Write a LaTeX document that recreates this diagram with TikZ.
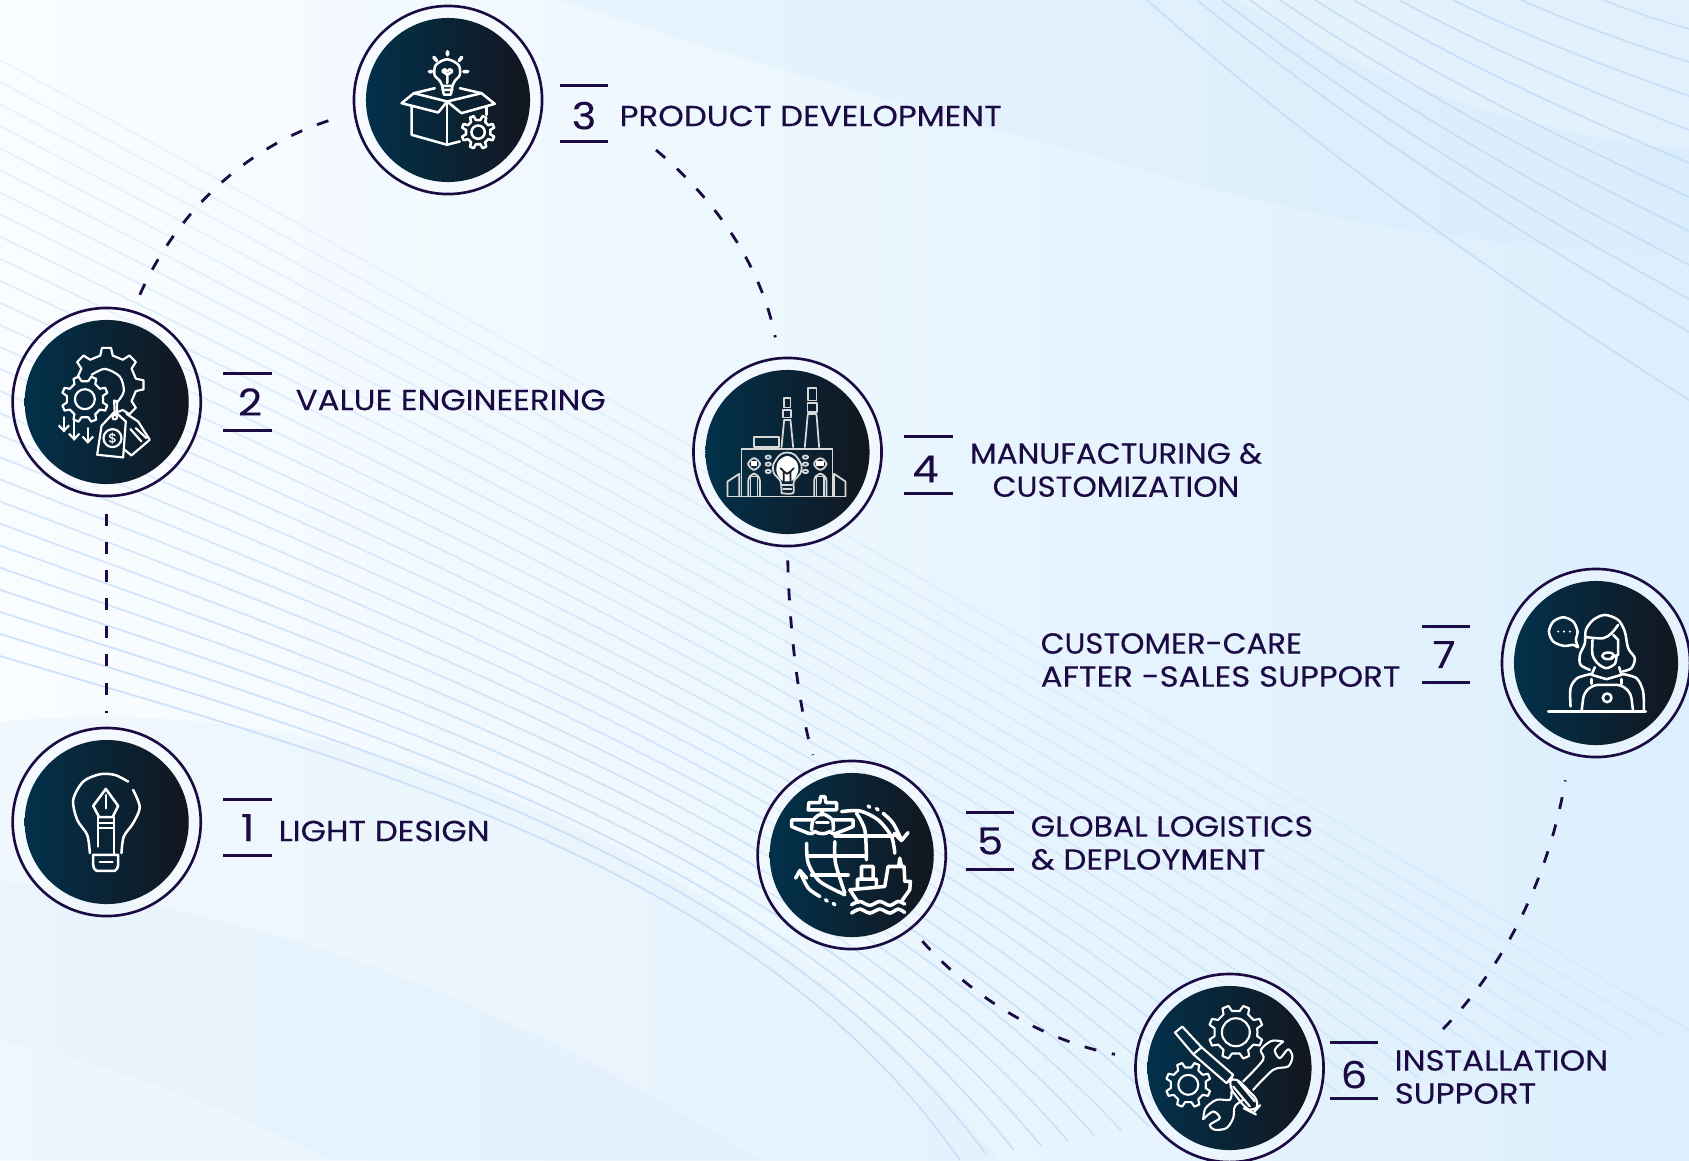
\documentclass[tikz,border=0pt]{standalone}
\usepackage{fontspec}
\setmainfont{Poppins}[FakeStretch=1.12,FakeBold=.22]
\usetikzlibrary{arrows.meta}
\definecolor{ink}{HTML}{1B0B42}
\definecolor{discleft}{HTML}{02314B}
\definecolor{discright}{HTML}{12161F}
\definecolor{wave}{HTML}{C2DBF8}
\definecolor{skyleft}{HTML}{FAFDFF}
\definecolor{skymid}{HTML}{F4FAFF}
\definecolor{skyright}{HTML}{DCEFFD}
\definecolor{lobe}{HTML}{D2E9FB}
\definecolor{swell}{HTML}{DDEEFB}
\tikzset{
	ring/.style = {circle,draw=ink,line width=.75pt,fill=white,fill opacity=.3,minimum size=1.88cm,inner sep=0pt},
	disc/.style = {circle,left color=discleft,right color=discright,minimum size=1.64cm,inner sep=0pt},
	tally/.style = {text=ink,font=\fontsize{10.6}{12}\selectfont,minimum width=.47cm,minimum height=.55cm,inner sep=0pt},
	bar/.style = {draw=ink,line width=.75pt},
	caption/.style = {text=ink,font=\fontsize{8.25}{9.4}\selectfont,inner sep=0pt,align=left},
	link/.style = {draw=ink,line width=.8pt,dash pattern=on .12cm off .16cm},
	zoomview/.style = {x=.003333cm,y=-.003333cm,white,line width=.72pt,line cap=round,line join=round},
}
% gear: centre x, centre y, outer r, inner r, teeth, hole r
\newcommand{\geartool}[6]{%
	\pgfmathsetmacro{\gearstep}{360/#5}
	\draw[shift={(#1,#2)}] (0:#4) \foreach \k in {1,...,#5} {
		-- ({(\k-.5-.27)*\gearstep}:#4) -- ({(\k-.5-.15)*\gearstep}:#3)
		-- ({(\k-.5+.15)*\gearstep}:#3) -- ({(\k-.5+.27)*\gearstep}:#4)
	} -- cycle;
	\draw (#1,#2) circle[radius=#6];
}

\begin{document}
\begin{tikzpicture}[x=.01cm,y=-.01cm]
	\useasboundingbox (0,0) rectangle (1689,1160);
	\clip (0,0) rectangle (1689,1160);

	% background
	\fill[left color=skyleft,middle color=skymid,right color=skyright] (0,0) rectangle (1689,1160);
	\fill[lobe,opacity=.25] (560,0) .. controls (800,80) and (1000,130) .. (1100,158) .. controls (1250,200) and (1400,245) .. (1689,255) -- (1689,0) -- cycle;
	\fill[white,opacity=.22] (1240,0) .. controls (1350,70) and (1500,130) .. (1689,150) -- (1689,0) -- cycle;
	\fill[swell,opacity=.3] (0,722) .. controls (300,690) and (700,800) .. (1000,1160) -- (0,1160) -- cycle;
	\fill[swell,opacity=.35] (0,880) .. controls (300,920) and (500,1000) .. (760,1160) -- (0,1160) -- cycle;
	\fill[white,opacity=.25] (0,1040) .. controls (150,1075) and (250,1120) .. (330,1160) -- (0,1160) -- cycle;

	% wave lines, lower family
	\foreach \j in {0,...,27} {
		\pgfmathsetmacro{\t}{\j/27}
		\pgfmathsetmacro{\fade}{.8-.55*\t}
		\draw[wave,line width=.5pt,opacity=\fade]
			(0,{656-596*\t}) .. controls ({350+150*\t},{760-430*\t}) and ({750+350*\t},{860-180*\t}) .. ({960+729*\t},{1160-130*\t});
	}
	% wave lines, top right
	\foreach \sx/\ey in {1147/400,1197/332,1222/299,1250/265,1280/231,1315/197,1354/163,1399/130,1453/96,1521/62,1603/29} {
		\draw[wave,line width=.5pt,opacity=.8] (\sx,0) .. controls ({\sx+(1689-\sx)*.35},{\ey*.42}) and ({\sx+(1689-\sx)*.7},{\ey*.74}) .. (1689,\ey);
	}

	% nodes
	\node[ring] (light) at (106.7,822){};
	\node[ring] (value) at (106.7,402){};
	\node[ring] (product) at (448,100){};
	\node[ring] (making) at (787.5,452){};
	\node[ring] (logistics) at (851.7,855){};
	\node[ring] (install) at (1229.5,1068){};
	\node[ring] (care) at (1596,663){};
	\foreach \n in {light,value,product,making,logistics,install,care} {
		\node[disc] (\n disc) at (\n){};
	}

	% numbers
	\node[tally] (one) at (247.5,827.5){1};
	\node[tally] (two) at (247.5,402){\kern.05cm 2};
	\node[tally] (three) at (584,113.5){\raisebox{-.02cm}[\height][0pt]{3}};
	\node[tally] (four) at (928.5,465){\kern-.06cm\raisebox{-.04cm}[\height][0pt]{4}};
	\node[tally] (five) at (990,841){5};
	\node[tally] (six) at (1354,1070.5){\raisebox{-.04cm}[\height][0pt]{6}};
	\node[tally] (seven) at (1446,654.5){\kern-.04cm 7};
	\foreach \n in {one,two,three,four,five,six,seven} {
		\draw[bar] (\n.north west) -- (\n.north east);
		\draw[bar] (\n.south west) -- (\n.south east);
	}

	% texts
	\node[caption,anchor=west] (lighttext) at (278,831){LIGHT DESIGN};
	\node[caption,anchor=west] (valuetext) at (295,400){VALUE ENGINEERING};
	\node[caption,anchor=west] (producttext) at (619,116){PRODUCT DEVELOPMENT};
	\node[caption,align=center] (makingtext) at (1116,470){\scalebox{.954}[1]{MANUFACTURING \&}\\\scalebox{.954}[1]{CUSTOMIZATION}};
	\node[caption,anchor=west] (caretext) at (1040,660){\scalebox{.95}[1]{CUSTOMER-CARE}\\AFTER -SALES SUPPORT};
	\node[caption,anchor=west] (logisticstext) at (1030,843){\scalebox{.97}[1]{GLOBAL LOGISTICS}\\\& DEPLOYMENT};
	\node[caption,anchor=west] (installtext) at (1394,1077){INSTALLATION\\SUPPORT};

	% connectors
	\coordinate (productout) at (656,150);
	\coordinate (installout) at (1443,1029);
	\draw[link,shorten <=.17cm,shorten >=.14cm] (value.south) -- (light.north);
	\draw[link,shorten <=.17cm,shorten >=.18cm] (value.74) .. controls (175,215) and (245,145) .. (product.188);
	\draw[link,shorten >=.2cm] (productout) .. controls (710,195) and (760,260) .. (making.95);
	\draw[link,shorten <=.13cm,shorten >=.12cm] (making.south) .. controls (789,620) and (797,700) .. (logistics.112);
	\draw[link,shorten <=.16cm,shorten >=.2cm] (logistics.309) .. controls (970,995) and (1040,1040) .. (install.174);
	\draw[link,shorten >=.26cm] (installout) .. controls (1510,960) and (1550,870) .. (care.254);

	% icon 1, bulb with pen
	\begin{scope}[shift={(0,720)},zoomview]
		\draw plot[smooth] coordinates {(385,185)(345,165)(300,163)(250,185)(220,240)(232,300)(262,345)(270,400)};
		\draw plot[smooth] coordinates {(400,210)(420,262)(400,310)(372,350)(365,400)};
		\draw (280,405) -- (355,405) -- (355,435) to[bend left=30] (345,453) -- (290,453) to[bend left=30] (280,435) -- cycle;
		\draw (300,427) -- (338,427);
		\draw (318,207) -- (355,258) -- (338,292) -- (298,292) -- (280,258) -- cycle;
		\draw (318,225) -- (318,265);
		\draw (295,310) -- (342,310) (295,325) -- (342,325) (295,292) -- (295,380) (342,292) -- (342,405);
	\end{scope}

	% icon 2, gears and price tags
	\begin{scope}[shift={(0,300)},zoomview,line width=.62pt]
		\draw[shift={(320,255)}] (-165:90) \foreach \a in {-135,-90,-45,0,45} {
			-- ({\a-12}:90) -- ({\a-7}:112) -- ({\a+7}:112) -- ({\a+12}:90)
		} -- (68:88);
		\draw plot[smooth] coordinates {(275,225)(315,207)(360,230)(372,275)(350,310)};
		\geartool{255}{298}{70}{55}{8}{30}
		\draw[-{Straight Barb[length=1.6pt,width=3pt]}] (192,352) -- (192,398);
		\draw[-{Straight Barb[length=1.6pt,width=3pt]}] (223,362) -- (223,423);
		\draw[-{Straight Barb[length=1.6pt,width=3pt]}] (264,385) -- (264,432);
		\draw (345,335) -- (378,365) -- (370,473) -- (292,465) -- (305,378) -- cycle;
		\draw (345,352) circle[radius=7];
		\draw (345,345) -- (343,302) -- (352,305) -- (352,335);
		\draw (380,342) -- (415,365) -- (450,420) -- (395,467) -- (372,448);
		\draw (392,388) -- (425,425) (408,385) -- (440,415);
		\draw (338,415) circle[radius=27];
		\node[white,font=\fontsize{3.6}{4}\selectfont,inner sep=0pt] (dollar) at (338,415){\$};
	\end{scope}

	% icon 3, box with bulb
	\begin{scope}[shift={(340,0)},zoomview]
		\draw plot[smooth] coordinates {(307,258)(300,243)(284,225)(288,195)(322,178)(356,195)(360,225)(345,243)(338,258)};
		\draw (307,258) -- (338,258) (307,270) -- (338,270) (307,258) -- (312,284) -- (333,284) -- (338,258);
		\draw plot[smooth] coordinates {(322,250)(322,225)(308,215)(315,208)(322,215)(330,208)(337,215)(322,225)};
		\draw[line width=1pt] (323,155) -- (323,165) (268,215) -- (276,215) (372,215) -- (384,215) (282,172) -- (290,182) (366,172) -- (358,182);
		\draw (285,265) -- (222,280) -- (185,310) -- (295,338) -- (322,305) -- (365,340) -- (465,312) -- (425,280) -- (360,265);
		\draw (222,280) -- (322,305) -- (425,280);
		\draw (215,322) -- (215,405) -- (322,435) -- (360,425);
		\draw (322,305) -- (322,435) (440,322) -- (440,345);
		\geartool{415}{397}{50}{37}{8}{20}
	\end{scope}

	% icon 4, factory
	\begin{scope}[shift={(680,350)},zoomview,white!85!black,line width=.5pt]
		\draw (185,440) -- (185,297) -- (458,297) -- (458,440);
		\draw (143,440) -- (497,440);
		\draw (143,440) -- (143,395) -- (178,372) -- (178,440);
		\draw (497,440) -- (497,395) -- (463,372) -- (463,440);
		\draw[rounded corners=2pt] (205,440) -- (205,372) -- (240,372) -- (240,440);
		\draw (212,440) -- (212,380) -- (233,380) -- (233,440);
		\draw[rounded corners=2pt] (403,440) -- (403,372) -- (440,372) -- (440,440);
		\draw (410,440) -- (410,380) -- (433,380) -- (433,440);
		\draw[rounded corners=2pt] (205,325) rectangle (240,360);
		\draw[rounded corners=2pt] (403,325) rectangle (440,360);
		\fill[white] (212,333) rectangle (232,350);
		\fill[white] (410,333) rectangle (432,350);
		\draw plot[smooth] coordinates {(305,430)(302,395)(282,370)(280,345)(300,315)(322,308)(345,315)(365,345)(362,370)(342,395)(340,430)(305,430)};
		\fill[white] plot[smooth cycle] coordinates {(306,392)(290,365)(295,335)(322,318)(350,335)(355,365)(338,392)};
		\draw[discright] (312,392) -- (312,365) -- (302,355) (332,392) -- (332,365) -- (342,355) (312,365) -- (322,372) -- (332,365);
		\draw (306,405) -- (338,405) (310,418) -- (335,418);
		\foreach \dy in {322,343,365} {
			\draw (265,\dy) ellipse[x radius=8,y radius=5];
			\draw (377,\dy) ellipse[x radius=8,y radius=5];
		}
		\draw (305,292) -- (313,210) -- (332,210) -- (340,292);
		\draw (310,180) rectangle (333,203);
		\draw (312,145) rectangle (332,173);
		\draw (375,292) -- (384,192) -- (410,192) -- (418,292);
		\draw (383,160) rectangle (412,187);
		\draw (385,115) rectangle (410,152);
		\draw (223,262) rectangle (298,292);
	\end{scope}

	% icon 5, globe, plane and ship
	\begin{scope}[shift={(745,750)},zoomview,line width=1pt]
		\draw plot[smooth] coordinates {(290,185)(345,183)(400,210)(440,260)(450,310)};
		\draw plot[smooth] coordinates {(185,280)(190,340)(225,395)(300,435)};
		\draw plot[smooth] coordinates {(335,190)(360,240)(365,330)};
		\draw plot[smooth] coordinates {(270,275)(272,340)(300,430)};
		\draw (270,258) -- (445,258) (190,318) -- (365,318) (200,375) -- (310,375);
		\draw plot[smooth] coordinates {(415,190)(445,220)(470,270)};
		\draw (448,250) -- (470,272) -- (490,248);
		\draw plot[smooth] coordinates {(225,440)(190,415)(165,365)};
		\draw (152,385) -- (165,362) -- (185,385);
		\draw (370,168) -- (375,172) (395,176) -- (400,180) (242,450) -- (247,454) (265,461) -- (270,465);
		\fill[discleft!40!discright] (232,228) circle[radius=33];
		\draw (192,158) -- (225,158) -- (227,140) -- (240,140) -- (243,158) -- (275,158) -- (275,180) -- (190,180) -- cycle;
		\draw (232,180) -- (232,195);
		\draw (205,210) -- (140,210) -- (140,230) -- (190,250) to[bend right=40] (210,245) to[bend right=30] (255,245) to[bend right=40] (275,250) -- (325,230) -- (325,210) -- (262,210);
		\draw plot[smooth] coordinates {(200,240)(205,210)(232,192)(262,210)(265,240)};
		\draw (215,218) -- (250,218);
		\draw (315,420) -- (420,410) -- (430,350) -- (478,350) -- (480,395) -- (497,395) -- (495,420) -- (470,455);
		\draw (315,420) -- (340,458) (338,412) -- (338,388) -- (395,388) -- (395,412) (350,388) -- (350,350) -- (385,350) -- (385,388);
		\draw (462,348) -- (465,325) -- (470,348);
		\draw plot[smooth] coordinates {(320,465)(345,455)(375,467)(405,455)(435,467)(460,455)(480,463)};
		\draw plot[smooth] coordinates {(320,490)(345,478)(375,490)(405,478)(435,490)(460,478)(480,488)};
	\end{scope}

	% icon 6, gears, screwdriver and wrench
	\begin{scope}[shift={(1125,960)},zoomview,line width=.6pt]
		\geartool{333}{217}{82}{65}{8}{42}
		\geartool{190}{375}{68}{53}{8}{30}
		\draw (150,218) -- (172,200) -- (230,262) -- (205,283) -- cycle;
		\draw (205,283) -- (305,370) (230,262) -- (325,345);
		\draw[rounded corners=3pt] (305,370) -- (325,345) -- (410,432) -- (385,460) -- (365,450) -- cycle;
		\draw (340,365) -- (390,425) (325,380) -- (375,440);
		\draw plot[smooth] coordinates {(355,365)(415,300)(408,270)(440,243)(475,245)};
		\draw plot[smooth] coordinates {(475,245)(450,270)(465,295)(490,268)(503,290)(490,320)(445,330)(385,390)};
		\draw plot[smooth] coordinates {(320,395)(315,420)(275,420)(242,445)(235,478)};
		\draw plot[smooth] coordinates {(235,478)(265,455)(285,475)(255,495)(270,510)(305,505)(325,475)(330,440)(355,420)};
	\end{scope}

	% icon 7, agent with laptop
	\begin{scope}[shift={(1490,560)},zoomview]
		\draw (175,455) -- (468,455);
		\draw[rounded corners=4pt] (275,455) -- (285,375) -- (420,375) -- (430,455);
		\draw (352,414) circle[radius=13];
		\draw plot[smooth] coordinates {(262,262)(250,255)(222,258)(190,245)(177,215)(190,185)(220,172)(250,185)(263,215)(258,240)(265,262)};
		\foreach \dx in {205,222,240} {\fill[white] (\dx,215) circle[radius=3.5];}
		\draw plot[smooth] coordinates {(300,330)(272,315)(270,285)(285,250)(288,210)(310,180)(345,165)(385,180)(405,215)(415,265)(435,295)(425,325)(398,335)};
		\draw plot[smooth] coordinates {(290,232)(340,235)(365,220)(385,195)};
		\draw plot[smooth] coordinates {(308,240)(308,285)(325,312)(350,325)(375,312)(380,290)};
		\draw (370,225) -- (385,240) -- (385,285) -- (365,292);
		\draw (355,288) ellipse[x radius=18,y radius=10];
		\draw (315,322) -- (305,345) -- (350,358) -- (395,345) -- (388,322);
		\draw (305,358) -- (305,372) (395,358) -- (395,372);
		\draw plot[smooth] coordinates {(242,440)(242,385)(262,355)(305,342)};
		\draw plot[smooth] coordinates {(395,342)(440,355)(460,395)(462,455)};
	\end{scope}
\end{tikzpicture}
\end{document}
